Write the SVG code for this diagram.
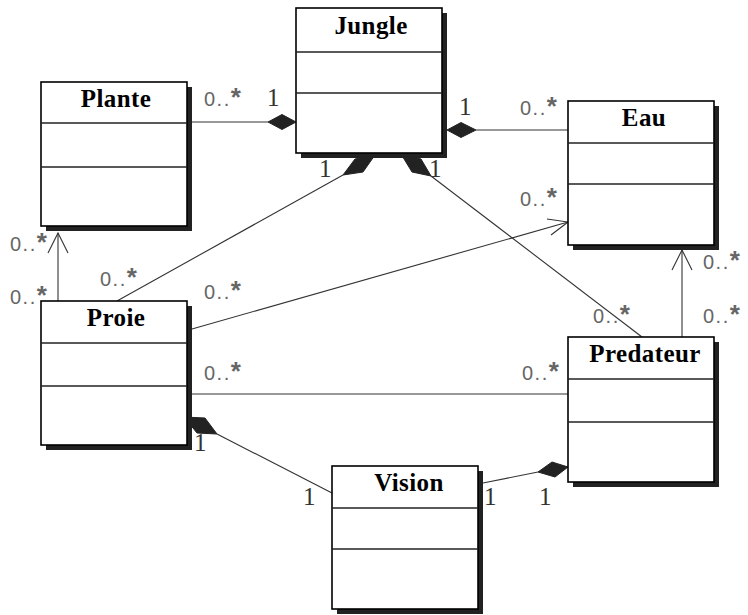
<svg xmlns="http://www.w3.org/2000/svg" width="748" height="615" viewBox="0 0 748 615">
<style>
.shadow{fill:#222;stroke:none}
.box{fill:#fff;stroke:#000;stroke-width:1.6}
.div{stroke:#222;stroke-width:1.3}
.title{font-family:"Liberation Serif","Times New Roman",serif;font-weight:bold;font-size:25px;fill:#000;text-anchor:middle;letter-spacing:0.4px}
.conn{stroke:#333;stroke-width:1.1;fill:none}
.dia{fill:#222;stroke:#222;stroke-width:1}
.arrow{stroke:#333;stroke-width:1.1;fill:none}
.many{font-family:"Liberation Sans",Arial,sans-serif;font-size:20px;fill:#666;letter-spacing:1.5px}
.ast{font-size:26px;font-weight:bold}
.one{font-family:"Liberation Serif","Times New Roman",serif;font-size:25px;fill:#333}
</style>
<rect width="748" height="615" fill="#fff"/>
<g id="connectors">
  <!-- Plante - Jungle -->
  <line class="conn" x1="192" y1="122" x2="268" y2="122"/>
  <polygon class="dia" points="268,122 282,114.5 296,122 282,129.5"/>
  <!-- Jungle - Eau -->
  <line class="conn" x1="476" y1="130" x2="568" y2="130"/>
  <polygon class="dia" points="447,130 461,122.5 476,130 461,137.5"/>
  <!-- Proie - Jungle -->
  <line class="conn" x1="117" y1="301" x2="343" y2="175"/>
  <polygon class="dia" points="343,175 355,159 375,155 363,172"/>
  <!-- Predateur - Jungle -->
  <line class="conn" x1="642" y1="337" x2="431" y2="176"/>
  <polygon class="dia" points="431,176 412,172 401,154 421,159"/>
  <!-- Proie -> Plante -->
  <line class="conn" x1="58" y1="301" x2="58" y2="233"/>
  <polyline class="arrow" points="48,253 58,233 68,253"/>
  <!-- Proie -> Eau -->
  <line class="conn" x1="192" y1="329" x2="568" y2="222"/>
  <polyline class="arrow" points="547,219 568,222 551,235"/>
  <!-- Predateur -> Eau -->
  <line class="conn" x1="682" y1="337" x2="682" y2="250"/>
  <polyline class="arrow" points="672,270 682,250 692,270"/>
  <!-- Proie - Predateur -->
  <line class="conn" x1="192" y1="394" x2="568" y2="394"/>
  <!-- Proie - Vision -->
  <line class="conn" x1="217" y1="434" x2="332" y2="493"/>
  <polygon class="dia" points="217,434 197,433 184,417 205,418"/>
  <!-- Vision - Predateur -->
  <line class="conn" x1="483" y1="483" x2="538" y2="472"/>
  <polygon class="dia" points="538,472 552,462 568,467 555,477"/>
</g>
<g id="labels">
  <text class="many" x="204" y="106">0..<tspan class="ast">*</tspan></text>
  <text class="one" x="267" y="106">1</text>
  <text class="one" x="459" y="115">1</text>
  <text class="many" x="520" y="115">0..<tspan class="ast">*</tspan></text>
  <text class="many" x="520" y="206">0..<tspan class="ast">*</tspan></text>
  <text class="many" x="703" y="269">0..<tspan class="ast">*</tspan></text>
  <text class="many" x="703" y="323">0..<tspan class="ast">*</tspan></text>
  <text class="many" x="593" y="323">0..<tspan class="ast">*</tspan></text>
  <text class="one" x="319" y="177">1</text>
  <text class="one" x="429" y="177">1</text>
  <text class="many" x="10" y="251">0..<tspan class="ast">*</tspan></text>
  <text class="many" x="10" y="304">0..<tspan class="ast">*</tspan></text>
  <text class="many" x="100" y="286">0..<tspan class="ast">*</tspan></text>
  <text class="many" x="204" y="299">0..<tspan class="ast">*</tspan></text>
  <text class="many" x="204" y="380">0..<tspan class="ast">*</tspan></text>
  <text class="many" x="522" y="380">0..<tspan class="ast">*</tspan></text>
  <text class="one" x="194" y="451">1</text>
  <text class="one" x="303" y="505">1</text>
  <text class="one" x="484" y="505">1</text>
  <text class="one" x="539" y="505">1</text>
</g>
<g id="Jungle">
  <rect class="shadow" x="301" y="13" width="146" height="145"/>
  <rect class="box" x="296" y="8" width="146" height="145"/>
  <line class="div" x1="296" y1="52" x2="442" y2="52"/>
  <line class="div" x1="296" y1="93" x2="442" y2="93"/>
  <text class="title" x="371" y="34">Jungle</text>
</g>
<g id="Plante">
  <rect class="shadow" x="46" y="87" width="146" height="144"/>
  <rect class="box" x="41" y="82" width="146" height="144"/>
  <line class="div" x1="41" y1="123" x2="187" y2="123"/>
  <line class="div" x1="41" y1="167" x2="187" y2="167"/>
  <text class="title" x="116" y="107">Plante</text>
</g>
<g id="Eau">
  <rect class="shadow" x="573" y="106" width="146" height="144"/>
  <rect class="box" x="568" y="101" width="146" height="144"/>
  <line class="div" x1="568" y1="143" x2="714" y2="143"/>
  <line class="div" x1="568" y1="184" x2="714" y2="184"/>
  <text class="title" x="644" y="126">Eau</text>
</g>
<g id="Proie">
  <rect class="shadow" x="46" y="306" width="146" height="144"/>
  <rect class="box" x="41" y="301" width="146" height="144"/>
  <line class="div" x1="41" y1="343" x2="187" y2="343"/>
  <line class="div" x1="41" y1="386" x2="187" y2="386"/>
  <text class="title" x="116" y="326">Proie</text>
</g>
<g id="Predateur">
  <rect class="shadow" x="573" y="342" width="146" height="145"/>
  <rect class="box" x="568" y="337" width="146" height="145"/>
  <line class="div" x1="568" y1="379" x2="714" y2="379"/>
  <line class="div" x1="568" y1="422" x2="714" y2="422"/>
  <text class="title" x="645" y="362">Predateur</text>
</g>
<g id="Vision">
  <rect class="shadow" x="337" y="471" width="146" height="143"/>
  <rect class="box" x="332" y="466" width="146" height="143"/>
  <line class="div" x1="332" y1="508" x2="478" y2="508"/>
  <line class="div" x1="332" y1="549" x2="478" y2="549"/>
  <text class="title" x="409" y="491">Vision</text>
</g>
</svg>
